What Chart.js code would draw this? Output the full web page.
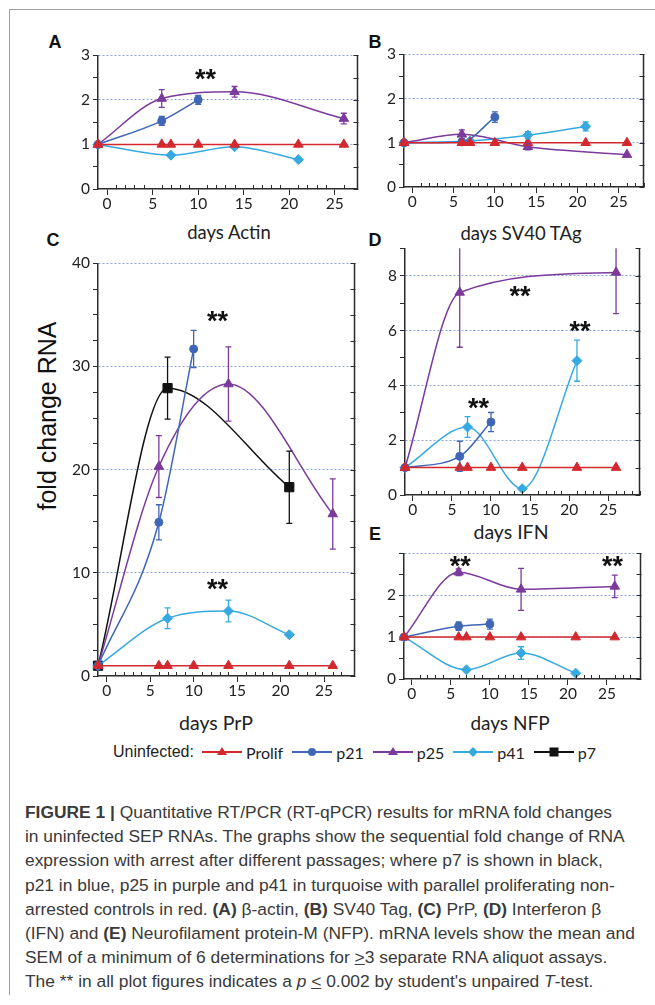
<!DOCTYPE html>
<html>
<head>
<meta charset="utf-8">
<script src="https://cdn.jsdelivr.net/npm/chart.js@4.4.1/dist/chart.umd.min.js"></script>
<style>
  body { margin: 0; background: #fff; width: 655px; height: 1005px; position: relative; overflow: hidden; font-family: 'Liberation Sans', Arial, sans-serif; }
  canvas { position: absolute; }
  .frame { position: absolute; left: 9px; top: 9px; width: 700px; height: 985px; border-left: 1px solid #a0a0a0; border-top: 1px solid #a0a0a0; }
  .lbl { position: absolute; transform: translate(-50%, -50%); white-space: nowrap; }
  .letter { font-weight: bold; font-size: 18px; color: #111; }
  .title { font-family: Lato, 'Open Sans', sans-serif; font-size: 18.5px; color: #222; }
  .ylab { font-size: 25px; color: #111; transform: translate(-50%, -50%) rotate(-90deg); }
  .legend { position: absolute; left: 113px; top: 741px; height: 22px; display: flex; align-items: center; font-size: 16px; color: #222; white-space: nowrap; }
  .legend .name { font-family: Lato, 'Open Sans', sans-serif; margin: 0 9px 0 4px; }
  .legend svg { display: block; }
  .caption { position: absolute; left: 25px; top: 800px; font-size: 17.4px; line-height: 24.2px; color: #3a3a3a; white-space: nowrap; }
</style>
</head>
<body>
<div class="frame"></div>

<div class="lbl letter" style="left:55px;top:42px">A</div>
<div class="lbl letter" style="left:375px;top:42px">B</div>
<div class="lbl letter" style="left:53px;top:240px">C</div>
<div class="lbl letter" style="left:375px;top:240px">D</div>
<div class="lbl letter" style="left:375px;top:534px">E</div>

<div class="lbl title" style="left:229px;top:232px">days Actin</div>
<div class="lbl title" style="left:521px;top:233px">days SV40 TAg</div>
<div class="lbl title" style="left:216px;top:722px;font-size:19.5px">days PrP</div>
<div class="lbl title" style="left:511px;top:531px;font-size:19.5px">days IFN</div>
<div class="lbl title" style="left:510px;top:722px;font-size:19px">days NFP</div>
<div class="lbl ylab" style="left:47px;top:416px">fold change RNA</div>

<div class="legend" id="legend"><span style="margin-right:8px">Uninfected:</span></div>

<div class="caption">
<div><b>FIGURE 1 |</b> Quantitative RT/PCR (RT-qPCR) results for mRNA fold changes</div>
<div>in uninfected SEP RNAs. The graphs show the sequential fold change of RNA</div>
<div>expression with arrest after different passages; where p7 is shown in black,</div>
<div>p21 in blue, p25 in purple and p41 in turquoise with parallel proliferating non-</div>
<div>arrested controls in red. <b>(A)</b> β-actin, <b>(B)</b> SV40 Tag, <b>(C)</b> PrP, <b>(D)</b> Interferon β</div>
<div>(IFN) and <b>(E)</b> Neurofilament protein-M (NFP). mRNA levels show the mean and</div>
<div>SEM of a minimum of 6 determinations for <u>&gt;</u>3 separate RNA aliquot assays.</div>
<div>The ** in all plot figures indicates a <i>p</i> <u>&lt;</u> 0.002 by student's unpaired <i>T</i>-test.</div>
</div>

<canvas id="chartA"></canvas>
<canvas id="chartB"></canvas>
<canvas id="chartC"></canvas>
<canvas id="chartD"></canvas>
<canvas id="chartE"></canvas>

<script>
// ---- data (days after arrest, fold change) ----
const xLabels = [0, 5, 10, 15, 20, 25];
const prolifDays = [-1, 6, 7, 10, 14, 21, 26];
const prolifVals = [1, 1, 1, 1, 1, 1, 1];

// A: actin
const aP21Days = [-1, 6, 10], aP21 = [1, 1.53, 2.0], aP21Err = [0, 0.1, 0.1];
const aP25Days = [-1, 6, 14, 26], aP25 = [1, 2.03, 2.18, 1.58], aP25Err = [0, 0.2, 0.12, 0.12];
const aP41Days = [-1, 7, 14, 21], aP41 = [1, 0.76, 0.95, 0.66], aP41Err = [0, 0, 0, 0];
const aYLabels = [0, 1, 2, 3], aYGrid = [1, 2, 3];
const aStars = [[10.8, 2.6]];

// B: SV40 TAg
const bP21Days = [-1, 6, 10], bP21 = [1, 1.02, 1.58], bP21Err = [0, 0, 0.12];
const bP25Days = [-1, 6, 14, 26], bP25 = [1, 1.19, 0.91, 0.73], bP25Err = [0, 0.1, 0.07, 0];
const bP41Days = [-1, 7, 14, 21], bP41 = [1, 1.04, 1.17, 1.37], bP41Err = [0, 0, 0.08, 0.1];
const bYLabels = [0, 1, 2, 3], bYGrid = [1, 2, 3];
const bStars = [];

// C: PrP
const cP21Days = [-1, 6, 10], cP21 = [1, 14.9, 31.7], cP21Err = [0, 1.7, 1.8];
const cP25Days = [-1, 6, 14, 26], cP25 = [1, 20.3, 28.3, 15.7], cP25Err = [0, 3, 3.6, 3.4];
const cP41Days = [-1, 7, 14, 21], cP41 = [1, 5.6, 6.3, 4.0], cP41Err = [0, 1, 1.05, 0];
const cP7Days = [-1, 7, 21], cP7 = [1, 27.9, 18.3], cP7Err = [0, 3, 3.5];
const cYLabels = [0, 10, 20, 30, 40], cYGrid = [10, 20, 30, 40];
const cStars = [[12.75, 35.0], [12.75, 9.0]];

// D: IFN
const dP21Days = [-1, 6, 10], dP21 = [1, 1.41, 2.66], dP21Err = [0, 0.55, 0.35];
const dP25Days = [-1, 6, 26], dP25 = [1, 7.39, 8.12], dP25Err = [0, 2, 1.5];
const dP41Days = [-1, 7, 14, 21], dP41 = [1, 2.48, 0.23, 4.9], dP41Err = [0, 0.38, 0, 0.75];
const dYLabels = [0, 2, 4, 6, 8], dYGrid = [2, 4, 6, 8];
const dStars = [[13.7, 7.48], [21.4, 6.2], [8.4, 3.39]];

// E: NFP
const eP21Days = [-1, 6, 10], eP21 = [1, 1.26, 1.31], eP21Err = [0, 0.1, 0.12];
const eP25Days = [-1, 6, 14, 26], eP25 = [1, 2.55, 2.14, 2.21], eP25Err = [0, 0.08, 0.5, 0.27];
const eP41Days = [-1, 7, 14, 21], eP41 = [1, 0.22, 0.62, 0.14], eP41Err = [0, 0, 0.15, 0];
const eYLabels = [0, 1, 2], eYGrid = [1, 2, 3];
const eStars = [[6.2, 2.83], [25.7, 2.83]];

// ---- styles ----
const AXIS = '#2b2b2b';
const GRID = '#8aa6dc';
const STY = {
  Prolif: { color: '#d3282e', point: 'triangle', r: 5.5 },
  p21: { color: '#3f66b7', point: 'circle', r: 4 },
  p25: { color: '#7b3a9c', point: 'triangle', r: 5.5 },
  p41: { color: '#36a9e1', point: 'rectRot', r: 5 },
  p7: { color: '#111111', point: 'rect', r: 6.5 }
};

function ds(key, days, vals, errs) {
  const s = STY[key];
  return {
    label: key,
    data: days.map((d, i) => ({ x: d, y: vals[i] })),
    errs: errs || null,
    borderColor: s.color,
    backgroundColor: s.color,
    pointStyle: s.point,
    pointRadius: s.r,
    pointBorderWidth: 1,
    borderWidth: 1.5,
    cubicInterpolationMode: 'monotone',
    clip: false
  };
}

const errorBars = {
  id: 'errorBars',
  afterDatasetsDraw(chart) {
    const { ctx, chartArea: a, scales: { y } } = chart;
    ctx.save();
    ctx.beginPath();
    ctx.rect(a.left - 10, a.top, a.right - a.left + 20, a.bottom - a.top);
    ctx.clip();
    chart.data.datasets.forEach((d, i) => {
      if (!d.errs) return;
      const meta = chart.getDatasetMeta(i);
      meta.data.forEach((pt, j) => {
        const e = d.errs[j];
        if (!e) return;
        const v = d.data[j].y;
        const y1 = y.getPixelForValue(v + e), y2 = y.getPixelForValue(v - e);
        ctx.strokeStyle = d.borderColor;
        ctx.lineWidth = 1.3;
        ctx.beginPath();
        ctx.moveTo(pt.x, y1); ctx.lineTo(pt.x, y2);
        ctx.moveTo(pt.x - 3, y1); ctx.lineTo(pt.x + 3, y1);
        ctx.moveTo(pt.x - 3, y2); ctx.lineTo(pt.x + 3, y2);
        ctx.stroke();
      });
    });
    ctx.restore();
  }
};

// right axis + small upward minor ticks on x
const frame = {
  id: 'frame',
  afterDraw(chart) {
    const { ctx, chartArea: a, scales: { x, y } } = chart;
    ctx.save();
    ctx.strokeStyle = AXIS;
    ctx.lineWidth = 1.5;
    ctx.beginPath();
    ctx.moveTo(a.right, a.top);
    ctx.lineTo(a.right, a.bottom);
    ctx.stroke();
    ctx.lineWidth = 1;
    ctx.beginPath();
    y.ticks.forEach(t => {
      const py = Math.round(y.getPixelForValue(t.value)) + 0.5;
      ctx.moveTo(a.right - 4, py); ctx.lineTo(a.right + 1, py);
    });
    x.ticks.forEach(t => {
      if (!Number.isInteger(t.value) || t.value % 5 === 0 || t.value < 0) return;
      const px = Math.round(x.getPixelForValue(t.value)) + 0.5;
      ctx.moveTo(px, a.bottom); ctx.lineTo(px, a.bottom - 4);
    });
    ctx.stroke();
    ctx.restore();
  }
};

const stars = {
  id: 'stars',
  afterDraw(chart, args, opts) {
    const { ctx, scales: { x, y } } = chart;
    ctx.save();
    ctx.fillStyle = '#111';
    ctx.font = 'bold 27px "Liberation Sans", Arial, sans-serif';
    ctx.textAlign = 'center';
    ctx.textBaseline = 'alphabetic';
    (opts.marks || []).forEach(m => {
      ctx.fillText('**', x.getPixelForValue(m[0]), y.getPixelForValue(m[1]) + 15);
    });
    ctx.restore();
  }
};

const YW = 45, XH = 30, PT = 12, PR = 6;

function makePanel(id, box, xMax, yMax, yStep, yLabels, yGrid, datasets, marks) {
  const cv = document.getElementById(id);
  cv.width = box.R - box.L + YW + PR;
  cv.height = box.B - box.T + PT + XH;
  cv.style.left = (box.L - YW) + 'px';
  cv.style.top = (box.T - PT) + 'px';
  const tickFont = { family: 'Lato, "Open Sans", sans-serif', size: 15.5 };
  return new Chart(cv, {
    type: 'line',
    data: { datasets },
    options: {
      responsive: false,
      animation: false,
      devicePixelRatio: 1,
      layout: { padding: { top: PT, right: PR, left: 0, bottom: 0 } },
      plugins: { legend: { display: false }, tooltip: { enabled: false }, stars: { marks } },
      scales: {
        x: {
          type: 'linear', min: -1, max: xMax,
          afterFit: s => { s.height = XH; },
          ticks: {
            stepSize: 1, autoSkip: false, maxRotation: 0, padding: 0,
            color: '#222', font: tickFont,
            callback: v => xLabels.includes(v) ? String(v) : ''
          },
          grid: {
            drawOnChartArea: false, tickLength: 6,
            tickColor: c => (c.tick && xLabels.includes(c.tick.value)) ? AXIS : 'rgba(0,0,0,0)'
          },
          border: { color: AXIS, width: 1.5 }
        },
        y: {
          min: 0, max: yMax,
          afterFit: s => { s.width = YW; },
          ticks: {
            stepSize: yStep, autoSkip: false, padding: 3,
            color: '#222', font: tickFont,
            callback: v => yLabels.includes(v) ? String(v) : ''
          },
          grid: {
            tickLength: 5, tickColor: AXIS, lineWidth: 1,
            color: c => (c.tick && yGrid.includes(c.tick.value)) ? GRID : 'rgba(0,0,0,0)'
          },
          border: { color: AXIS, width: 1.5, dash: [2, 2] }
        }
      }
    },
    plugins: [errorBars, frame, stars]
  });
}

makePanel('chartA', { L: 98, R: 358, T: 55, B: 189 }, 27.5, 3, 0.5, aYLabels, aYGrid, [
  ds('Prolif', prolifDays, prolifVals),
  ds('p21', aP21Days, aP21, aP21Err),
  ds('p25', aP25Days, aP25, aP25Err),
  ds('p41', aP41Days, aP41, aP41Err)
], aStars);

makePanel('chartB', { L: 404, R: 644, T: 54, B: 187 }, 28, 3, 0.5, bYLabels, bYGrid, [
  ds('Prolif', prolifDays, prolifVals),
  ds('p21', bP21Days, bP21, bP21Err),
  ds('p25', bP25Days, bP25, bP25Err),
  ds('p41', bP41Days, bP41, bP41Err)
], bStars);

makePanel('chartC', { L: 98, R: 356, T: 263, B: 676 }, 28.5, 40, 2.5, cYLabels, cYGrid, [
  ds('Prolif', prolifDays, prolifVals),
  ds('p21', cP21Days, cP21, cP21Err),
  ds('p25', cP25Days, cP25, cP25Err),
  ds('p41', cP41Days, cP41, cP41Err),
  ds('p7', cP7Days, cP7, cP7Err)
], cStars);

makePanel('chartD', { L: 405, R: 640, T: 248, B: 495 }, 29, 9, 1, dYLabels, dYGrid, [
  ds('Prolif', prolifDays, prolifVals),
  ds('p21', dP21Days, dP21, dP21Err),
  ds('p25', dP25Days, dP25, dP25Err),
  ds('p41', dP41Days, dP41, dP41Err)
], dStars);

makePanel('chartE', { L: 404, R: 641, T: 553, B: 679 }, 29.3, 3, 0.5, eYLabels, eYGrid, [
  ds('Prolif', prolifDays, prolifVals),
  ds('p21', eP21Days, eP21, eP21Err),
  ds('p25', eP25Days, eP25, eP25Err),
  ds('p41', eP41Days, eP41, eP41Err)
], eStars);

// ---- shared legend ----
const legendKeys = ['Prolif', 'p21', 'p25', 'p41', 'p7'];
const markerSvg = {
  triangle: c => `<polygon points="20,2 25,10 15,10" fill="${c}"/>`,
  circle: c => `<circle cx="20" cy="7" r="4" fill="${c}"/>`,
  rectRot: c => `<polygon points="20,2 25,7 20,12 15,7" fill="${c}"/>`,
  rect: c => `<rect x="15.5" y="2.5" width="9" height="9" fill="${c}"/>`
};
const legend = document.getElementById('legend');
legendKeys.forEach(k => {
  const s = STY[k];
  const item = document.createElement('span');
  item.style.display = 'flex';
  item.style.alignItems = 'center';
  item.innerHTML = `<svg width="40" height="14"><line x1="0" y1="7" x2="40" y2="7" stroke="${s.color}" stroke-width="2"/>${markerSvg[s.point](s.color)}</svg><span class="name">${k}</span>`;
  legend.appendChild(item);
});
</script>
</body>
</html>
